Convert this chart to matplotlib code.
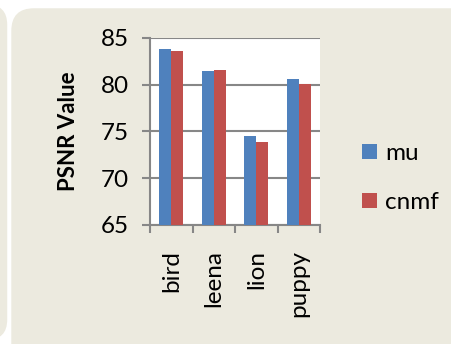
import numpy as np
import matplotlib.pyplot as plt
from matplotlib.patches import FancyBboxPatch

images = ['bird', 'leena', 'lion', 'puppy']
mu = [83.8, 81.45, 74.5, 80.6]
cnmf = [83.55, 81.55, 73.9, 80.05]

plt.rcParams['font.family'] = ['Lato', 'DejaVu Sans']

fig = plt.figure(figsize=(4.52, 3.44), dpi=100)
fig.patch.set_facecolor('white')

panel = '#ECEADF'
# left neighbour panel (mostly cut off) and main chart panel
fig.patches.append(FancyBboxPatch((-0.2, 0.012), 0.216, 0.975,
                                  boxstyle='round,pad=0,rounding_size=0.045',
                                  transform=fig.transFigure, fc=panel, ec='none',
                                  mutation_aspect=452 / 344, zorder=-10))
fig.patches.append(FancyBboxPatch((0.025, -0.2), 1.1, 1.176,
                                  boxstyle='round,pad=0,rounding_size=0.05',
                                  transform=fig.transFigure, fc=panel, ec='none',
                                  mutation_aspect=452 / 344, zorder=-10))

ax = fig.add_axes([0.332, 0.346, 0.376, 0.544])
ax.set_facecolor('white')

x = np.arange(len(images))
w = 0.28
ax.bar(x - w / 2, mu, w, color='#4F81BD', label='mu', zorder=3)
ax.bar(x + w / 2, cnmf, w, color='#C0504D', label='cnmf', zorder=3)

ax.set_ylim(65, 85)
ax.set_xlim(-0.5, len(images) - 0.5)
ax.set_yticks([65, 70, 75, 80, 85])
ax.yaxis.grid(True, color='#878787', linewidth=1.5, zorder=0)

ax.set_xticks(x)
ax.set_xticklabels(images, rotation=90, fontsize=17.5)
ax.set_xticks(np.arange(-0.5, len(images)), minor=True)
ax.tick_params(axis='x', which='major', length=0, pad=18)
ax.tick_params(axis='x', which='minor', length=6, width=1.5, color='#878787')
ax.tick_params(axis='y', length=6, width=1.5, color='#878787', labelsize=17.5, pad=9)

for s in ['top', 'right']:
    ax.spines[s].set_visible(False)
for s in ['left', 'bottom']:
    ax.spines[s].set_color('#878787')
    ax.spines[s].set_linewidth(1.5)

ax.set_ylabel('PSNR Value', fontsize=16, fontweight='bold', labelpad=16)

ax.legend(loc='center left', bbox_to_anchor=(1.12, 0.25), frameon=False,
          fontsize=17.5, handlelength=0.6, handleheight=0.6, handletextpad=0.35,
          labelspacing=1.15)

fig.savefig('out.png', dpi=100, facecolor=fig.get_facecolor())
